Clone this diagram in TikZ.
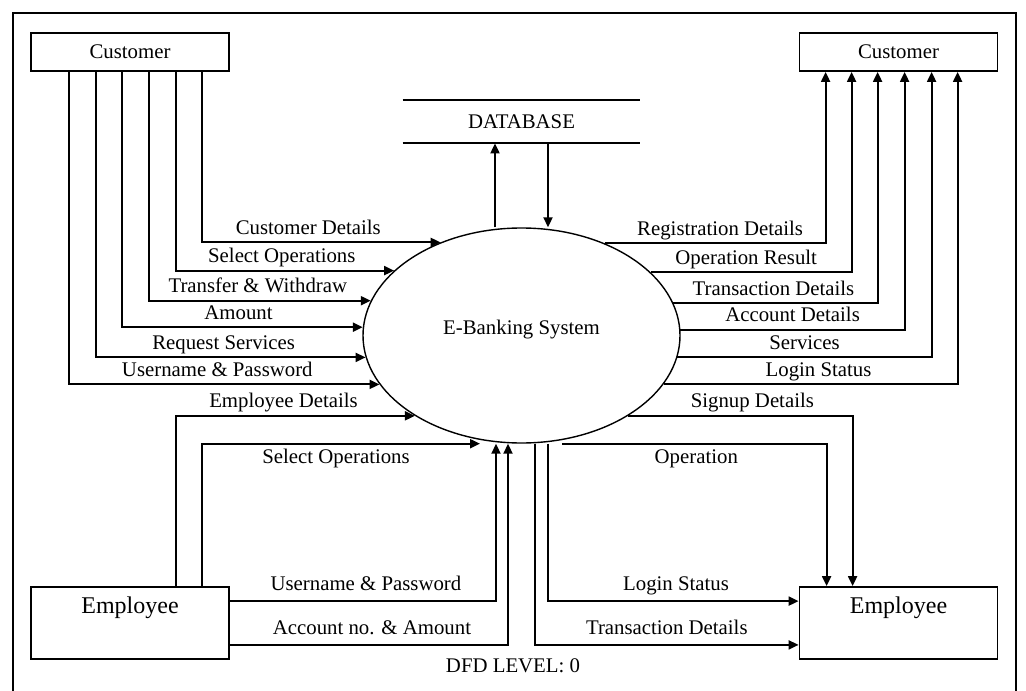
\documentclass[tikz,border=0pt]{standalone}
\usepackage{fontspec}
\setmainfont{Liberation Serif}
\usetikzlibrary{arrows.meta,shapes.geometric}
\begin{document}
\begin{tikzpicture}[x=0.5pt,y=-0.5pt,font=\fontsize{10.4}{12}\selectfont,
  box/.style={draw,line width=0.9pt,inner sep=0pt,minimum width=99pt},
  bigtext/.style={font=\fontsize{12}{14}\selectfont,text height=13pt,text depth=23pt},
  flow/.style={line width=1pt,-{Triangle[length=5pt,width=4.5pt]}},
  plain/.style={line width=1pt},
  lbl/.style={inner sep=1pt,text height=0.7em,text depth=0.25em}]
  \useasboundingbox (0,0) rectangle (1026,690);
  \draw [line width=1.2pt] (13,695) -- (13,13) -- (1016,13) -- (1016,695);
  \node [box,minimum height=19pt] (custin) at (130,52) {Customer};
  \node [box,minimum height=19pt] (custout) at (898.5,52) {Customer};
  \node [box,bigtext] (empin) at (130,623) {Employee};
  \node [box,bigtext] (empout) at (898.5,623) {Employee};
  \node [ellipse,draw,line width=0.7pt,minimum width=158.5pt,minimum height=107.5pt,inner sep=0pt,
    text height=7pt,text depth=8pt] (sys) at (521.5,335.5) {E-Banking System};
  \node [inner sep=0pt,minimum width=118.5pt,minimum height=21.5pt] (db) at (521.5,121.5) {DATABASE};
  \draw [plain] (db.north west) -- (db.north east) (db.south west) -- (db.south east);
  \node (level) at (513,666) {DFD LEVEL: 0};

  \draw [flow] ([xshift=13.25pt]db.south) -- ([xshift=13.25pt]sys.north);
  \draw [flow] ([xshift=-13.25pt]sys.north) -- ([xshift=-13.25pt]db.south);

  \draw [flow] ([xshift=86pt]custin.south west) |- (sys.131.1) node [lbl,pos=.75,above,xshift=-6.5pt] (cd) {Customer Details};
  \draw [flow] ([xshift=72.7pt]custin.south west) |- (sys.153.6) node [lbl,pos=.75,above,xshift=-1.5pt] (so) {Select Operations};
  \draw [flow] ([xshift=59.4pt]custin.south west) |- (sys.167.1) node [lbl,pos=.75,above,xshift=-1pt] (tw) {Transfer \& Withdraw};
  \draw [flow] ([xshift=46.1pt]custin.south west) |- (sys.177.6) node [lbl,pos=.75,above,xshift=-2pt] (am) {Amount};
  \draw [flow] ([xshift=32.8pt]custin.south west) |- (sys.188.3) node [lbl,pos=.75,above,xshift=-3.5pt] (rs) {Request Services};
  \draw [flow] ([xshift=19.5pt]custin.south west) |- (sys.199.9) node [lbl,pos=.75,above,xshift=-3.5pt] (up) {Username \& Password};

  \draw [flow] (sys.48.9) -| ([xshift=13.5pt]custout.south west) node [lbl,pos=.25,above,xshift=2.5pt] (rd) {Registration Details};
  \draw [flow] (sys.26.4) -| ([xshift=26.5pt]custout.south west) node [lbl,pos=.25,above,xshift=-2.5pt] (or) {Operation Result};
  \draw [flow] (sys.12.9) -| ([xshift=39.5pt]custout.south west) node [lbl,pos=.25,above,xshift=-1pt] (td) {Transaction Details};
  \draw [flow] (sys.2.4) -| ([xshift=53pt]custout.south west) node [lbl,pos=.25,above] (ad) {Account Details};
  \draw [flow] (sys.-8.3) -| ([xshift=66.5pt]custout.south west) node [lbl,pos=.25,above] (sv) {Services};
  \draw [flow] (sys.-19.9) -| ([xshift=79.5pt]custout.south west) node [lbl,pos=.25,above,xshift=4pt] (ls) {Login Status};

  \draw [flow] ([xshift=73pt]empin.north west) |- (sys.217.5) node [lbl,pos=.75,above,xshift=-6pt] (ed) {Employee Details};
  \draw [flow] ([xshift=86pt]empin.north west) |- ([xshift=-20.75pt]sys.south) node [lbl,pos=.75,below=1.5pt,xshift=-2.5pt] (eso) {Select Operations};
  \draw [flow] ([yshift=-7.5pt]empin.north east) -| ([xshift=-12.75pt]sys.south) node [lbl,pos=.25,above=1.5pt,xshift=1.5pt] (eup) {Username \& Password};
  \draw [flow] ([yshift=7.5pt]empin.south east) -| ([xshift=-6.75pt]sys.south) node [lbl,pos=.25,above=1pt,xshift=1.5pt] (ea) {Account no. \& Amount};

  \draw [flow] (sys.-37.5) -| ([xshift=27pt]empout.north west) node [lbl,pos=.25,above,xshift=6pt] (sd) {Signup Details};
  \draw [flow] ([xshift=20.25pt]sys.south) -| ([xshift=14pt]empout.north west) node [lbl,pos=.25,below=1.5pt,xshift=1pt] (op) {Operation};
  \draw [flow] ([xshift=13pt]sys.south) |- ([yshift=-7.5pt]empout.north west) node [lbl,pos=.75,above=1.5pt,xshift=1.5pt] (els) {Login Status};
  \draw [flow] ([xshift=6.75pt]sys.south) |- ([yshift=7.5pt]empout.south west) node [lbl,pos=.75,above=1pt] (etd) {Transaction Details};
\end{tikzpicture}
\end{document}
